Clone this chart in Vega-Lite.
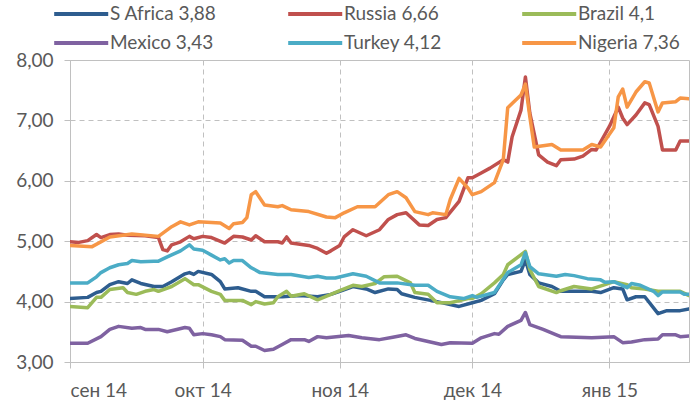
{
  "$schema": "https://vega.github.io/schema/vega-lite/v6.json",
  "width": 619,
  "height": 302,
  "autosize": {"type": "none"},
  "padding": {"left": 70, "top": 60, "right": 2, "bottom": 45},
  "background": "white",
  "config": {
    "view": {"stroke": "#c0c0c0", "strokeWidth": 1},
    "font": "Lato",
    "axis": {
      "grid": true, "gridColor": "#c0c0c0", "gridDash": [5, 4], "gridWidth": 1,
      "domainColor": "#c0c0c0", "tickColor": "#c0c0c0", "tickSize": 6,
      "labelFont": "Lato", "labelFontSize": 19, "labelColor": "#595959", "title": null
    }
  },
  "datasets": {
    "rates": [
      {"date":"2014-09-01","series":"S Africa 3,88","value":4.05},{"date":"2014-09-05","series":"S Africa 3,88","value":4.07},{"date":"2014-09-07","series":"S Africa 3,88","value":4.15},{"date":"2014-09-08","series":"S Africa 3,88","value":4.17},{"date":"2014-09-10","series":"S Africa 3,88","value":4.28},{"date":"2014-09-12","series":"S Africa 3,88","value":4.33},{"date":"2014-09-14","series":"S Africa 3,88","value":4.30},{"date":"2014-09-15","series":"S Africa 3,88","value":4.36},{"date":"2014-09-17","series":"S Africa 3,88","value":4.30},{"date":"2014-09-20","series":"S Africa 3,88","value":4.25},{"date":"2014-09-22","series":"S Africa 3,88","value":4.25},{"date":"2014-09-24","series":"S Africa 3,88","value":4.33},{"date":"2014-09-27","series":"S Africa 3,88","value":4.46},{"date":"2014-09-28","series":"S Africa 3,88","value":4.48},{"date":"2014-09-29","series":"S Africa 3,88","value":4.45},{"date":"2014-09-30","series":"S Africa 3,88","value":4.50},{"date":"2014-10-03","series":"S Africa 3,88","value":4.45},{"date":"2014-10-05","series":"S Africa 3,88","value":4.33},{"date":"2014-10-06","series":"S Africa 3,88","value":4.21},{"date":"2014-10-09","series":"S Africa 3,88","value":4.23},{"date":"2014-10-12","series":"S Africa 3,88","value":4.17},{"date":"2014-10-13","series":"S Africa 3,88","value":4.17},{"date":"2014-10-15","series":"S Africa 3,88","value":4.08},{"date":"2014-10-19","series":"S Africa 3,88","value":4.08},{"date":"2014-10-23","series":"S Africa 3,88","value":4.10},{"date":"2014-10-27","series":"S Africa 3,88","value":4.08},{"date":"2014-10-30","series":"S Africa 3,88","value":4.12},{"date":"2014-11-01","series":"S Africa 3,88","value":4.17},{"date":"2014-11-04","series":"S Africa 3,88","value":4.25},{"date":"2014-11-07","series":"S Africa 3,88","value":4.21},{"date":"2014-11-09","series":"S Africa 3,88","value":4.15},{"date":"2014-11-12","series":"S Africa 3,88","value":4.21},{"date":"2014-11-14","series":"S Africa 3,88","value":4.20},{"date":"2014-11-15","series":"S Africa 3,88","value":4.13},{"date":"2014-11-18","series":"S Africa 3,88","value":4.07},{"date":"2014-11-23","series":"S Africa 3,88","value":4.00},{"date":"2014-11-26","series":"S Africa 3,88","value":3.95},{"date":"2014-11-28","series":"S Africa 3,88","value":3.92},{"date":"2014-12-01","series":"S Africa 3,88","value":3.98},{"date":"2014-12-03","series":"S Africa 3,88","value":4.02},{"date":"2014-12-06","series":"S Africa 3,88","value":4.13},{"date":"2014-12-08","series":"S Africa 3,88","value":4.36},{"date":"2014-12-09","series":"S Africa 3,88","value":4.45},{"date":"2014-12-12","series":"S Africa 3,88","value":4.50},{"date":"2014-12-13","series":"S Africa 3,88","value":4.69},{"date":"2014-12-14","series":"S Africa 3,88","value":4.45},{"date":"2014-12-16","series":"S Africa 3,88","value":4.31},{"date":"2014-12-19","series":"S Africa 3,88","value":4.25},{"date":"2014-12-21","series":"S Africa 3,88","value":4.17},{"date":"2014-12-28","series":"S Africa 3,88","value":4.17},{"date":"2014-12-30","series":"S Africa 3,88","value":4.15},{"date":"2015-01-02","series":"S Africa 3,88","value":4.23},{"date":"2015-01-04","series":"S Africa 3,88","value":4.21},{"date":"2015-01-05","series":"S Africa 3,88","value":4.03},{"date":"2015-01-07","series":"S Africa 3,88","value":4.08},{"date":"2015-01-09","series":"S Africa 3,88","value":4.08},{"date":"2015-01-12","series":"S Africa 3,88","value":3.80},{"date":"2015-01-14","series":"S Africa 3,88","value":3.85},{"date":"2015-01-17","series":"S Africa 3,88","value":3.85},{"date":"2015-01-19","series":"S Africa 3,88","value":3.88},
      {"date":"2014-09-01","series":"Russia 6,66","value":4.99},{"date":"2014-09-03","series":"Russia 6,66","value":4.98},{"date":"2014-09-05","series":"Russia 6,66","value":5.01},{"date":"2014-09-07","series":"Russia 6,66","value":5.11},{"date":"2014-09-08","series":"Russia 6,66","value":5.06},{"date":"2014-09-10","series":"Russia 6,66","value":5.11},{"date":"2014-09-12","series":"Russia 6,66","value":5.12},{"date":"2014-09-14","series":"Russia 6,66","value":5.10},{"date":"2014-09-18","series":"Russia 6,66","value":5.09},{"date":"2014-09-21","series":"Russia 6,66","value":5.06},{"date":"2014-09-22","series":"Russia 6,66","value":4.86},{"date":"2014-09-23","series":"Russia 6,66","value":4.84},{"date":"2014-09-24","series":"Russia 6,66","value":4.94},{"date":"2014-09-26","series":"Russia 6,66","value":4.99},{"date":"2014-09-28","series":"Russia 6,66","value":5.08},{"date":"2014-09-29","series":"Russia 6,66","value":5.04},{"date":"2014-10-01","series":"Russia 6,66","value":5.08},{"date":"2014-10-03","series":"Russia 6,66","value":5.06},{"date":"2014-10-06","series":"Russia 6,66","value":4.97},{"date":"2014-10-08","series":"Russia 6,66","value":5.08},{"date":"2014-10-10","series":"Russia 6,66","value":5.07},{"date":"2014-10-12","series":"Russia 6,66","value":5.02},{"date":"2014-10-13","series":"Russia 6,66","value":5.09},{"date":"2014-10-15","series":"Russia 6,66","value":4.99},{"date":"2014-10-18","series":"Russia 6,66","value":4.99},{"date":"2014-10-19","series":"Russia 6,66","value":4.97},{"date":"2014-10-20","series":"Russia 6,66","value":5.07},{"date":"2014-10-21","series":"Russia 6,66","value":4.97},{"date":"2014-10-25","series":"Russia 6,66","value":4.93},{"date":"2014-10-27","series":"Russia 6,66","value":4.88},{"date":"2014-10-29","series":"Russia 6,66","value":4.80},{"date":"2014-10-30","series":"Russia 6,66","value":4.84},{"date":"2014-11-01","series":"Russia 6,66","value":4.93},{"date":"2014-11-02","series":"Russia 6,66","value":5.07},{"date":"2014-11-04","series":"Russia 6,66","value":5.19},{"date":"2014-11-07","series":"Russia 6,66","value":5.09},{"date":"2014-11-10","series":"Russia 6,66","value":5.19},{"date":"2014-11-12","series":"Russia 6,66","value":5.36},{"date":"2014-11-14","series":"Russia 6,66","value":5.44},{"date":"2014-11-16","series":"Russia 6,66","value":5.47},{"date":"2014-11-19","series":"Russia 6,66","value":5.27},{"date":"2014-11-21","series":"Russia 6,66","value":5.26},{"date":"2014-11-23","series":"Russia 6,66","value":5.36},{"date":"2014-11-25","series":"Russia 6,66","value":5.39},{"date":"2014-11-28","series":"Russia 6,66","value":5.66},{"date":"2014-11-30","series":"Russia 6,66","value":6.05},{"date":"2014-12-01","series":"Russia 6,66","value":6.05},{"date":"2014-12-03","series":"Russia 6,66","value":6.13},{"date":"2014-12-05","series":"Russia 6,66","value":6.21},{"date":"2014-12-08","series":"Russia 6,66","value":6.35},{"date":"2014-12-09","series":"Russia 6,66","value":6.31},{"date":"2014-12-10","series":"Russia 6,66","value":6.73},{"date":"2014-12-12","series":"Russia 6,66","value":7.17},{"date":"2014-12-13","series":"Russia 6,66","value":7.72},{"date":"2014-12-14","series":"Russia 6,66","value":7.12},{"date":"2014-12-16","series":"Russia 6,66","value":6.43},{"date":"2014-12-18","series":"Russia 6,66","value":6.31},{"date":"2014-12-20","series":"Russia 6,66","value":6.25},{"date":"2014-12-21","series":"Russia 6,66","value":6.35},{"date":"2014-12-24","series":"Russia 6,66","value":6.36},{"date":"2014-12-26","series":"Russia 6,66","value":6.41},{"date":"2014-12-28","series":"Russia 6,66","value":6.52},{"date":"2014-12-29","series":"Russia 6,66","value":6.51},{"date":"2015-01-01","series":"Russia 6,66","value":6.90},{"date":"2015-01-03","series":"Russia 6,66","value":7.22},{"date":"2015-01-04","series":"Russia 6,66","value":7.04},{"date":"2015-01-05","series":"Russia 6,66","value":6.93},{"date":"2015-01-07","series":"Russia 6,66","value":7.09},{"date":"2015-01-09","series":"Russia 6,66","value":7.29},{"date":"2015-01-10","series":"Russia 6,66","value":7.26},{"date":"2015-01-12","series":"Russia 6,66","value":6.90},{"date":"2015-01-13","series":"Russia 6,66","value":6.51},{"date":"2015-01-16","series":"Russia 6,66","value":6.51},{"date":"2015-01-17","series":"Russia 6,66","value":6.66},{"date":"2015-01-19","series":"Russia 6,66","value":6.66},
      {"date":"2014-09-01","series":"Brazil 4,1","value":3.92},{"date":"2014-09-05","series":"Brazil 4,1","value":3.90},{"date":"2014-09-07","series":"Brazil 4,1","value":4.07},{"date":"2014-09-08","series":"Brazil 4,1","value":4.07},{"date":"2014-09-10","series":"Brazil 4,1","value":4.20},{"date":"2014-09-13","series":"Brazil 4,1","value":4.23},{"date":"2014-09-14","series":"Brazil 4,1","value":4.15},{"date":"2014-09-16","series":"Brazil 4,1","value":4.12},{"date":"2014-09-18","series":"Brazil 4,1","value":4.17},{"date":"2014-09-20","series":"Brazil 4,1","value":4.20},{"date":"2014-09-21","series":"Brazil 4,1","value":4.17},{"date":"2014-09-24","series":"Brazil 4,1","value":4.25},{"date":"2014-09-27","series":"Brazil 4,1","value":4.38},{"date":"2014-09-29","series":"Brazil 4,1","value":4.28},{"date":"2014-09-30","series":"Brazil 4,1","value":4.28},{"date":"2014-10-03","series":"Brazil 4,1","value":4.17},{"date":"2014-10-05","series":"Brazil 4,1","value":4.12},{"date":"2014-10-06","series":"Brazil 4,1","value":4.02},{"date":"2014-10-10","series":"Brazil 4,1","value":4.02},{"date":"2014-10-12","series":"Brazil 4,1","value":3.95},{"date":"2014-10-13","series":"Brazil 4,1","value":4.00},{"date":"2014-10-15","series":"Brazil 4,1","value":3.96},{"date":"2014-10-17","series":"Brazil 4,1","value":3.98},{"date":"2014-10-18","series":"Brazil 4,1","value":4.08},{"date":"2014-10-20","series":"Brazil 4,1","value":4.17},{"date":"2014-10-21","series":"Brazil 4,1","value":4.09},{"date":"2014-10-24","series":"Brazil 4,1","value":4.13},{"date":"2014-10-27","series":"Brazil 4,1","value":4.03},{"date":"2014-10-30","series":"Brazil 4,1","value":4.12},{"date":"2014-11-01","series":"Brazil 4,1","value":4.18},{"date":"2014-11-04","series":"Brazil 4,1","value":4.27},{"date":"2014-11-06","series":"Brazil 4,1","value":4.25},{"date":"2014-11-09","series":"Brazil 4,1","value":4.30},{"date":"2014-11-11","series":"Brazil 4,1","value":4.41},{"date":"2014-11-14","series":"Brazil 4,1","value":4.42},{"date":"2014-11-17","series":"Brazil 4,1","value":4.31},{"date":"2014-11-18","series":"Brazil 4,1","value":4.15},{"date":"2014-11-21","series":"Brazil 4,1","value":4.12},{"date":"2014-11-23","series":"Brazil 4,1","value":3.98},{"date":"2014-11-26","series":"Brazil 4,1","value":3.98},{"date":"2014-11-30","series":"Brazil 4,1","value":4.05},{"date":"2014-12-01","series":"Brazil 4,1","value":4.05},{"date":"2014-12-03","series":"Brazil 4,1","value":4.13},{"date":"2014-12-06","series":"Brazil 4,1","value":4.31},{"date":"2014-12-08","series":"Brazil 4,1","value":4.45},{"date":"2014-12-09","series":"Brazil 4,1","value":4.61},{"date":"2014-12-13","series":"Brazil 4,1","value":4.83},{"date":"2014-12-14","series":"Brazil 4,1","value":4.53},{"date":"2014-12-16","series":"Brazil 4,1","value":4.25},{"date":"2014-12-20","series":"Brazil 4,1","value":4.15},{"date":"2014-12-21","series":"Brazil 4,1","value":4.18},{"date":"2014-12-24","series":"Brazil 4,1","value":4.25},{"date":"2014-12-28","series":"Brazil 4,1","value":4.21},{"date":"2014-12-31","series":"Brazil 4,1","value":4.28},{"date":"2015-01-02","series":"Brazil 4,1","value":4.33},{"date":"2015-01-05","series":"Brazil 4,1","value":4.28},{"date":"2015-01-06","series":"Brazil 4,1","value":4.23},{"date":"2015-01-09","series":"Brazil 4,1","value":4.21},{"date":"2015-01-12","series":"Brazil 4,1","value":4.17},{"date":"2015-01-17","series":"Brazil 4,1","value":4.17},{"date":"2015-01-19","series":"Brazil 4,1","value":4.10},
      {"date":"2014-09-01","series":"Mexico 3,43","value":3.31},{"date":"2014-09-05","series":"Mexico 3,43","value":3.31},{"date":"2014-09-08","series":"Mexico 3,43","value":3.42},{"date":"2014-09-10","series":"Mexico 3,43","value":3.54},{"date":"2014-09-12","series":"Mexico 3,43","value":3.59},{"date":"2014-09-15","series":"Mexico 3,43","value":3.56},{"date":"2014-09-17","series":"Mexico 3,43","value":3.57},{"date":"2014-09-18","series":"Mexico 3,43","value":3.54},{"date":"2014-09-21","series":"Mexico 3,43","value":3.54},{"date":"2014-09-23","series":"Mexico 3,43","value":3.50},{"date":"2014-09-27","series":"Mexico 3,43","value":3.57},{"date":"2014-09-28","series":"Mexico 3,43","value":3.56},{"date":"2014-09-29","series":"Mexico 3,43","value":3.45},{"date":"2014-10-01","series":"Mexico 3,43","value":3.47},{"date":"2014-10-03","series":"Mexico 3,43","value":3.45},{"date":"2014-10-05","series":"Mexico 3,43","value":3.42},{"date":"2014-10-06","series":"Mexico 3,43","value":3.37},{"date":"2014-10-10","series":"Mexico 3,43","value":3.36},{"date":"2014-10-12","series":"Mexico 3,43","value":3.26},{"date":"2014-10-13","series":"Mexico 3,43","value":3.26},{"date":"2014-10-15","series":"Mexico 3,43","value":3.19},{"date":"2014-10-17","series":"Mexico 3,43","value":3.21},{"date":"2014-10-19","series":"Mexico 3,43","value":3.29},{"date":"2014-10-21","series":"Mexico 3,43","value":3.37},{"date":"2014-10-24","series":"Mexico 3,43","value":3.37},{"date":"2014-10-25","series":"Mexico 3,43","value":3.34},{"date":"2014-10-27","series":"Mexico 3,43","value":3.42},{"date":"2014-10-29","series":"Mexico 3,43","value":3.40},{"date":"2014-11-03","series":"Mexico 3,43","value":3.44},{"date":"2014-11-06","series":"Mexico 3,43","value":3.40},{"date":"2014-11-10","series":"Mexico 3,43","value":3.37},{"date":"2014-11-13","series":"Mexico 3,43","value":3.41},{"date":"2014-11-16","series":"Mexico 3,43","value":3.45},{"date":"2014-11-18","series":"Mexico 3,43","value":3.39},{"date":"2014-11-21","series":"Mexico 3,43","value":3.34},{"date":"2014-11-24","series":"Mexico 3,43","value":3.29},{"date":"2014-11-26","series":"Mexico 3,43","value":3.32},{"date":"2014-12-01","series":"Mexico 3,43","value":3.31},{"date":"2014-12-03","series":"Mexico 3,43","value":3.40},{"date":"2014-12-06","series":"Mexico 3,43","value":3.47},{"date":"2014-12-07","series":"Mexico 3,43","value":3.46},{"date":"2014-12-09","series":"Mexico 3,43","value":3.59},{"date":"2014-12-12","series":"Mexico 3,43","value":3.69},{"date":"2014-12-13","series":"Mexico 3,43","value":3.82},{"date":"2014-12-14","series":"Mexico 3,43","value":3.62},{"date":"2014-12-17","series":"Mexico 3,43","value":3.54},{"date":"2014-12-20","series":"Mexico 3,43","value":3.45},{"date":"2014-12-21","series":"Mexico 3,43","value":3.42},{"date":"2014-12-28","series":"Mexico 3,43","value":3.40},{"date":"2015-01-02","series":"Mexico 3,43","value":3.42},{"date":"2015-01-04","series":"Mexico 3,43","value":3.32},{"date":"2015-01-06","series":"Mexico 3,43","value":3.33},{"date":"2015-01-09","series":"Mexico 3,43","value":3.37},{"date":"2015-01-12","series":"Mexico 3,43","value":3.38},{"date":"2015-01-13","series":"Mexico 3,43","value":3.45},{"date":"2015-01-16","series":"Mexico 3,43","value":3.45},{"date":"2015-01-17","series":"Mexico 3,43","value":3.42},{"date":"2015-01-19","series":"Mexico 3,43","value":3.43},
      {"date":"2014-09-01","series":"Turkey 4,12","value":4.31},{"date":"2014-09-05","series":"Turkey 4,12","value":4.31},{"date":"2014-09-07","series":"Turkey 4,12","value":4.41},{"date":"2014-09-08","series":"Turkey 4,12","value":4.48},{"date":"2014-09-10","series":"Turkey 4,12","value":4.56},{"date":"2014-09-12","series":"Turkey 4,12","value":4.61},{"date":"2014-09-14","series":"Turkey 4,12","value":4.63},{"date":"2014-09-15","series":"Turkey 4,12","value":4.68},{"date":"2014-09-17","series":"Turkey 4,12","value":4.66},{"date":"2014-09-20","series":"Turkey 4,12","value":4.67},{"date":"2014-09-21","series":"Turkey 4,12","value":4.67},{"date":"2014-09-23","series":"Turkey 4,12","value":4.74},{"date":"2014-09-26","series":"Turkey 4,12","value":4.84},{"date":"2014-09-28","series":"Turkey 4,12","value":4.94},{"date":"2014-09-29","series":"Turkey 4,12","value":4.87},{"date":"2014-10-01","series":"Turkey 4,12","value":4.85},{"date":"2014-10-03","series":"Turkey 4,12","value":4.77},{"date":"2014-10-05","series":"Turkey 4,12","value":4.69},{"date":"2014-10-06","series":"Turkey 4,12","value":4.71},{"date":"2014-10-07","series":"Turkey 4,12","value":4.64},{"date":"2014-10-08","series":"Turkey 4,12","value":4.68},{"date":"2014-10-10","series":"Turkey 4,12","value":4.68},{"date":"2014-10-12","series":"Turkey 4,12","value":4.56},{"date":"2014-10-14","series":"Turkey 4,12","value":4.48},{"date":"2014-10-18","series":"Turkey 4,12","value":4.45},{"date":"2014-10-21","series":"Turkey 4,12","value":4.45},{"date":"2014-10-25","series":"Turkey 4,12","value":4.40},{"date":"2014-10-27","series":"Turkey 4,12","value":4.42},{"date":"2014-10-29","series":"Turkey 4,12","value":4.39},{"date":"2014-10-31","series":"Turkey 4,12","value":4.39},{"date":"2014-11-04","series":"Turkey 4,12","value":4.46},{"date":"2014-11-07","series":"Turkey 4,12","value":4.42},{"date":"2014-11-10","series":"Turkey 4,12","value":4.31},{"date":"2014-11-14","series":"Turkey 4,12","value":4.31},{"date":"2014-11-18","series":"Turkey 4,12","value":4.27},{"date":"2014-11-21","series":"Turkey 4,12","value":4.27},{"date":"2014-11-23","series":"Turkey 4,12","value":4.17},{"date":"2014-11-26","series":"Turkey 4,12","value":4.08},{"date":"2014-11-29","series":"Turkey 4,12","value":4.05},{"date":"2014-12-01","series":"Turkey 4,12","value":4.10},{"date":"2014-12-02","series":"Turkey 4,12","value":4.07},{"date":"2014-12-06","series":"Turkey 4,12","value":4.15},{"date":"2014-12-09","series":"Turkey 4,12","value":4.48},{"date":"2014-12-12","series":"Turkey 4,12","value":4.61},{"date":"2014-12-13","series":"Turkey 4,12","value":4.81},{"date":"2014-12-14","series":"Turkey 4,12","value":4.58},{"date":"2014-12-16","series":"Turkey 4,12","value":4.46},{"date":"2014-12-20","series":"Turkey 4,12","value":4.42},{"date":"2014-12-22","series":"Turkey 4,12","value":4.45},{"date":"2014-12-24","series":"Turkey 4,12","value":4.43},{"date":"2014-12-27","series":"Turkey 4,12","value":4.38},{"date":"2014-12-30","series":"Turkey 4,12","value":4.36},{"date":"2014-12-31","series":"Turkey 4,12","value":4.32},{"date":"2015-01-02","series":"Turkey 4,12","value":4.33},{"date":"2015-01-05","series":"Turkey 4,12","value":4.23},{"date":"2015-01-06","series":"Turkey 4,12","value":4.30},{"date":"2015-01-08","series":"Turkey 4,12","value":4.27},{"date":"2015-01-11","series":"Turkey 4,12","value":4.17},{"date":"2015-01-12","series":"Turkey 4,12","value":4.10},{"date":"2015-01-13","series":"Turkey 4,12","value":4.16},{"date":"2015-01-17","series":"Turkey 4,12","value":4.16},{"date":"2015-01-18","series":"Turkey 4,12","value":4.12},{"date":"2015-01-19","series":"Turkey 4,12","value":4.12},
      {"date":"2014-09-01","series":"Nigeria 7,36","value":4.93},{"date":"2014-09-06","series":"Nigeria 7,36","value":4.91},{"date":"2014-09-10","series":"Nigeria 7,36","value":5.07},{"date":"2014-09-15","series":"Nigeria 7,36","value":5.12},{"date":"2014-09-21","series":"Nigeria 7,36","value":5.08},{"date":"2014-09-24","series":"Nigeria 7,36","value":5.24},{"date":"2014-09-26","series":"Nigeria 7,36","value":5.32},{"date":"2014-09-28","series":"Nigeria 7,36","value":5.27},{"date":"2014-09-30","series":"Nigeria 7,36","value":5.32},{"date":"2014-10-05","series":"Nigeria 7,36","value":5.30},{"date":"2014-10-07","series":"Nigeria 7,36","value":5.21},{"date":"2014-10-08","series":"Nigeria 7,36","value":5.29},{"date":"2014-10-10","series":"Nigeria 7,36","value":5.31},{"date":"2014-10-11","series":"Nigeria 7,36","value":5.39},{"date":"2014-10-12","series":"Nigeria 7,36","value":5.77},{"date":"2014-10-13","series":"Nigeria 7,36","value":5.82},{"date":"2014-10-15","series":"Nigeria 7,36","value":5.60},{"date":"2014-10-18","series":"Nigeria 7,36","value":5.57},{"date":"2014-10-19","series":"Nigeria 7,36","value":5.59},{"date":"2014-10-21","series":"Nigeria 7,36","value":5.52},{"date":"2014-10-25","series":"Nigeria 7,36","value":5.49},{"date":"2014-10-29","series":"Nigeria 7,36","value":5.40},{"date":"2014-10-31","series":"Nigeria 7,36","value":5.39},{"date":"2014-11-02","series":"Nigeria 7,36","value":5.47},{"date":"2014-11-05","series":"Nigeria 7,36","value":5.57},{"date":"2014-11-09","series":"Nigeria 7,36","value":5.57},{"date":"2014-11-12","series":"Nigeria 7,36","value":5.77},{"date":"2014-11-14","series":"Nigeria 7,36","value":5.82},{"date":"2014-11-16","series":"Nigeria 7,36","value":5.72},{"date":"2014-11-18","series":"Nigeria 7,36","value":5.49},{"date":"2014-11-21","series":"Nigeria 7,36","value":5.44},{"date":"2014-11-22","series":"Nigeria 7,36","value":5.47},{"date":"2014-11-25","series":"Nigeria 7,36","value":5.44},{"date":"2014-11-26","series":"Nigeria 7,36","value":5.69},{"date":"2014-11-28","series":"Nigeria 7,36","value":6.04},{"date":"2014-11-30","series":"Nigeria 7,36","value":5.88},{"date":"2014-12-01","series":"Nigeria 7,36","value":5.77},{"date":"2014-12-03","series":"Nigeria 7,36","value":5.82},{"date":"2014-12-06","series":"Nigeria 7,36","value":5.97},{"date":"2014-12-08","series":"Nigeria 7,36","value":6.35},{"date":"2014-12-09","series":"Nigeria 7,36","value":7.21},{"date":"2014-12-12","series":"Nigeria 7,36","value":7.42},{"date":"2014-12-13","series":"Nigeria 7,36","value":7.60},{"date":"2014-12-14","series":"Nigeria 7,36","value":7.06},{"date":"2014-12-15","series":"Nigeria 7,36","value":6.56},{"date":"2014-12-19","series":"Nigeria 7,36","value":6.60},{"date":"2014-12-21","series":"Nigeria 7,36","value":6.51},{"date":"2014-12-26","series":"Nigeria 7,36","value":6.51},{"date":"2014-12-28","series":"Nigeria 7,36","value":6.60},{"date":"2014-12-30","series":"Nigeria 7,36","value":6.56},{"date":"2015-01-02","series":"Nigeria 7,36","value":6.88},{"date":"2015-01-03","series":"Nigeria 7,36","value":7.39},{"date":"2015-01-04","series":"Nigeria 7,36","value":7.52},{"date":"2015-01-05","series":"Nigeria 7,36","value":7.22},{"date":"2015-01-07","series":"Nigeria 7,36","value":7.47},{"date":"2015-01-09","series":"Nigeria 7,36","value":7.64},{"date":"2015-01-10","series":"Nigeria 7,36","value":7.62},{"date":"2015-01-12","series":"Nigeria 7,36","value":7.14},{"date":"2015-01-13","series":"Nigeria 7,36","value":7.29},{"date":"2015-01-16","series":"Nigeria 7,36","value":7.31},{"date":"2015-01-17","series":"Nigeria 7,36","value":7.37},{"date":"2015-01-19","series":"Nigeria 7,36","value":7.36}
    ]
  },
  "data": {"name": "rates"},
  "mark": {"type": "line", "strokeWidth": 3.5, "strokeJoin": "round", "strokeCap": "round", "clip": true},
  "encoding": {
    "x": {
      "field": "date", "type": "temporal",
      "scale": {"type": "utc", "domain": [{"year": 2014, "month": 9, "date": 1, "utc": true}, {"year": 2015, "month": 1, "date": 19, "utc": true}]},
      "axis": {
        "values": [{"year": 2014, "month": 9, "date": 1, "utc": true}, {"year": 2014, "month": 10, "date": 1, "utc": true}, {"year": 2014, "month": 11, "date": 1, "utc": true}, {"year": 2014, "month": 12, "date": 1, "utc": true}, {"year": 2015, "month": 1, "date": 1, "utc": true}],
        "labelExpr": "['янв','фев','мар','апр','май','июн','июл','авг','сен','окт','ноя','дек'][utcmonth(datum.value)] + ' ' + utcFormat(datum.value, '%y')",
        "labelPadding": 13
      }
    },
    "y": {
      "field": "value", "type": "quantitative",
      "scale": {"domain": [3, 8], "nice": false, "zero": false},
      "axis": {"values": [3, 4, 5, 6, 7, 8], "labelExpr": "replace(format(datum.value, '.2f'), '.', ',')", "labelPadding": 11}
    },
    "color": {
      "field": "series", "type": "nominal",
      "scale": {
        "domain": ["S Africa 3,88", "Mexico 3,43", "Russia 6,66", "Turkey 4,12", "Brazil 4,1", "Nigeria 7,36"],
        "range": ["#2E5D8F", "#7F62A1", "#C0504D", "#4BACC6", "#9BBB59", "#F79646"]
      },
      "legend": {
        "orient": "none", "legendX": -18, "legendY": -59, "columns": 3, "gridAlign": "all",
        "title": null, "padding": 0, "symbolType": "M-1,0H4", "symbolSize": 467, "symbolStrokeWidth": 4,
        "labelFont": "Lato", "labelFontSize": 19, "labelColor": "#595959", "labelOffset": 32, "labelLimit": 300,
        "columnPadding": 63, "rowPadding": 6
      }
    }
  }
}
